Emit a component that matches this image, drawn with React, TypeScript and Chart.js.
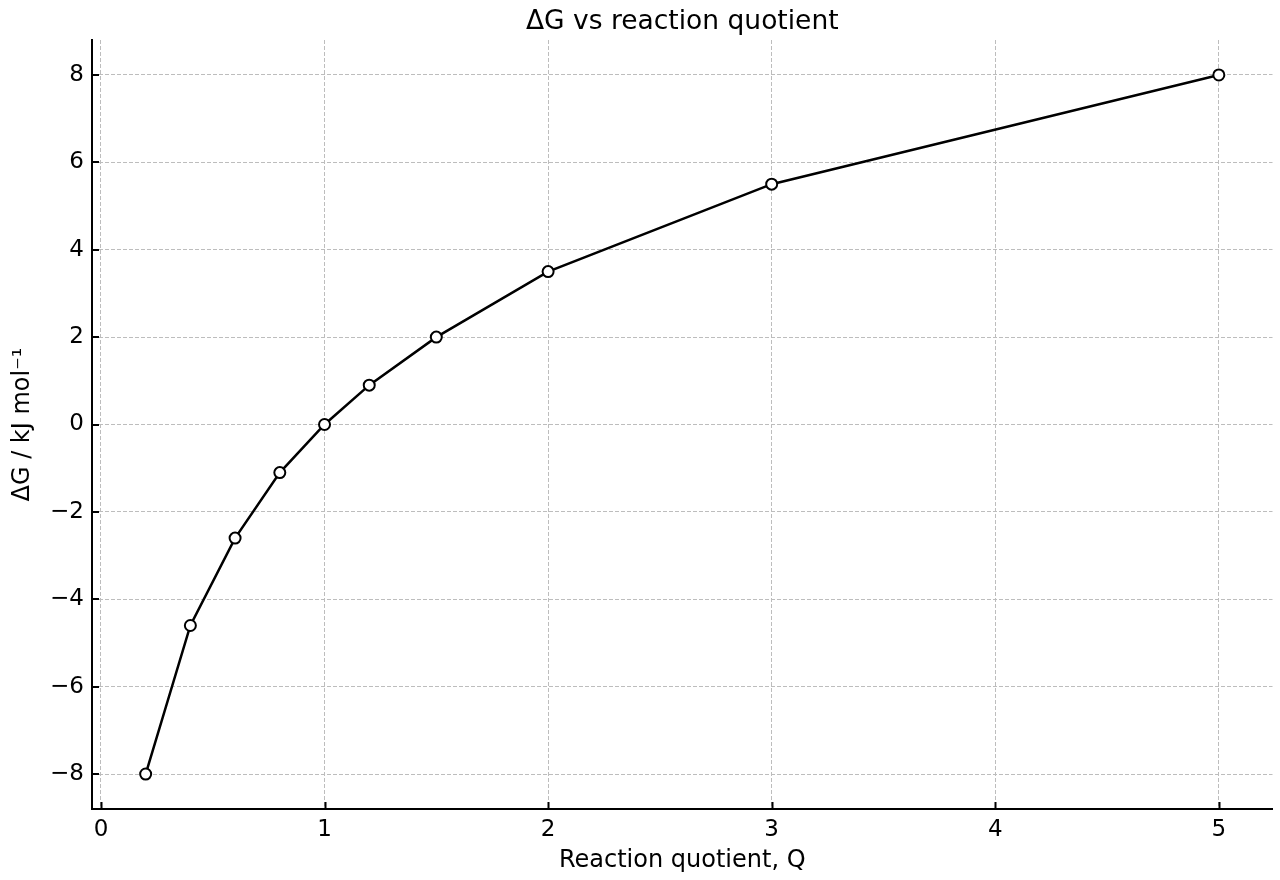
import { useEffect, useRef } from "react";
import { Chart, registerables } from "chart.js";

Chart.register(...registerables);

// reaction quotient Q and the Gibbs energy change
const qValues = [0.2, 0.4, 0.6, 0.8, 1.0, 1.2, 1.5, 2.0, 3.0, 5.0];
const dgValues = [-8.0, -4.6, -2.6, -1.1, 0.0, 0.9, 2.0, 3.5, 5.5, 8.0];

const xTicks = [0, 1, 2, 3, 4, 5];
const yTicks = [-8, -6, -4, -2, 0, 2, 4, 6, 8];

const FONT = "'DejaVu Sans', sans-serif";
const GRID = "#bdbdbd";

const minus = (v: number) => (v < 0 ? "\u2212" + Math.abs(v) : String(v));

// matplotlib-style ticks pointing into the axes
const inwardTicks = {
  id: "inwardTicks",
  afterDraw(chart: any) {
    const { ctx, chartArea, scales } = chart;
    const len = 7;
    ctx.save();
    ctx.strokeStyle = "#000";
    ctx.lineWidth = 2;
    ctx.beginPath();
    for (const t of scales.x.ticks) {
      const px = Math.round(scales.x.getPixelForValue(t.value)) + 0.5;
      ctx.moveTo(px, chartArea.bottom);
      ctx.lineTo(px, chartArea.bottom - len);
    }
    for (const t of scales.y.ticks) {
      const py = Math.round(scales.y.getPixelForValue(t.value));
      ctx.moveTo(chartArea.left, py);
      ctx.lineTo(chartArea.left + len, py);
    }
    ctx.stroke();
    ctx.restore();
  },
};

export default function App() {
  const canvasRef = useRef<HTMLCanvasElement>(null);

  useEffect(() => {
    document.body.style.margin = "0";
    const el = canvasRef.current;
    if (!el) return;

    const chart = new Chart(el, {
      type: "line",
      data: {
        datasets: [
          {
            label: "ΔG",
            data: qValues.map((q, i) => ({ x: q, y: dgValues[i] })),
            borderColor: "#000",
            borderWidth: 2.5,
            backgroundColor: "#fff",
            pointBackgroundColor: "#fff",
            pointBorderColor: "#000",
            pointBorderWidth: 2,
            pointRadius: 5.5,
            tension: 0,
          },
        ],
      },
      options: {
        animation: false,
        responsive: true,
        maintainAspectRatio: false,
        layout: { padding: { left: 0, right: 7, top: 0, bottom: 0 } },
        plugins: {
          legend: { display: false },
          tooltip: { enabled: false },
          title: {
            display: true,
            text: "ΔG vs reaction quotient",
            color: "#000",
            fullSize: false,
            font: { family: FONT, size: 26.5, weight: "normal" as any, lineHeight: 1.2 },
            padding: { top: 6, bottom: 2.2 },
          },
        },
        scales: {
          x: {
            type: "linear",
            min: -0.04,
            max: 5.24,
            afterBuildTicks: (s: any) => {
              s.ticks = xTicks.map((v) => ({ value: v }));
            },
            afterFit: (s: any) => {
              s.height = 71;
            },
            grid: { color: GRID, lineWidth: 1, drawTicks: false },
            border: { display: true, color: "#000", width: 2, dash: [4, 2] },
            ticks: {
              color: "#000",
              padding: 7,
              font: { family: FONT, size: 23 },
              callback: (v: any) => minus(Number(v)),
            },
            title: {
              display: true,
              text: "Reaction quotient, Q",
              color: "#000",
              font: { family: FONT, size: 24 },
              padding: { top: 0, bottom: 5 },
            },
          },
          y: {
            type: "linear",
            min: -8.8,
            max: 8.8,
            afterBuildTicks: (s: any) => {
              s.ticks = yTicks.map((v) => ({ value: v }));
            },
            afterFit: (s: any) => {
              s.width = 92;
            },
            grid: { color: GRID, lineWidth: 1, drawTicks: false },
            border: { display: true, color: "#000", width: 2, dash: [4, 2] },
            ticks: {
              color: "#000",
              padding: 8,
              font: { family: FONT, size: 23 },
              callback: (v: any) => minus(Number(v)),
            },
            title: {
              display: true,
              text: "ΔG / kJ mol\u207B\u00B9",
              color: "#000",
              font: { family: FONT, size: 24 },
              padding: { top: 8, bottom: 0 },
            },
          },
        },
      },
      plugins: [inwardTicks],
    });

    return () => chart.destroy();
  }, []);

  return (
    <div style={{ position: "relative", width: 1280, height: 880 }}>
      <canvas ref={canvasRef} />
    </div>
  );
}
